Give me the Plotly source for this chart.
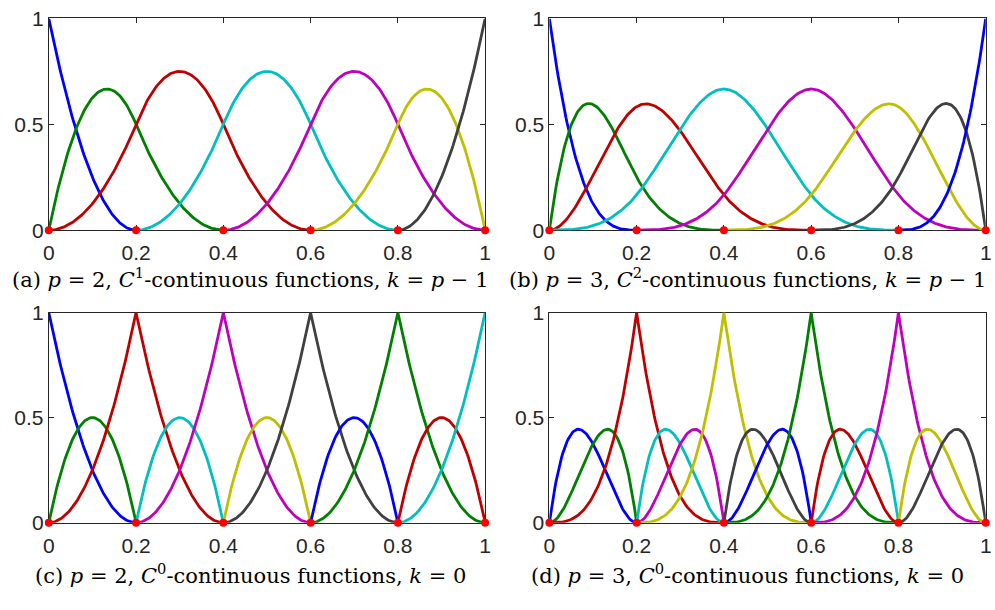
import plotly.graph_objects as go
import numpy as np

# ---- data: B-spline knot vectors (read from the plotted knots) ----
degree_a = 2
knots_a = [0, 0, 0, 0.2, 0.4, 0.6, 0.8, 1, 1, 1]
degree_b = 3
knots_b = [0, 0, 0, 0, 0.2, 0.4, 0.6, 0.8, 1, 1, 1, 1]
degree_c = 2
knots_c = [0, 0, 0, 0.2, 0.2, 0.4, 0.4, 0.6, 0.6, 0.8, 0.8, 1, 1, 1]
degree_d = 3
knots_d = [0, 0, 0, 0, 0.2, 0.2, 0.2, 0.4, 0.4, 0.4, 0.6, 0.6, 0.6, 0.8, 0.8, 0.8, 1, 1, 1, 1]
# which basis functions are drawn in each panel (d omits the two end functions)
shown_a = list(range(0, 7))
shown_b = list(range(0, 8))
shown_c = list(range(0, 11))
shown_d = list(range(1, 15))
knot_points_x = [0, 0.2, 0.4, 0.6, 0.8, 1]
knot_points_y = [0, 0, 0, 0, 0, 0]

captions = [
    "(a) <i>p</i> = 2, <i>C</i><sup>1</sup>-continuous functions, <i>k</i> = <i>p</i> − 1",
    "(b) <i>p</i> = 3, <i>C</i><sup>2</sup>-continuous functions, <i>k</i> = <i>p</i> − 1",
    "(c) <i>p</i> = 2, <i>C</i><sup>0</sup>-continuous functions, <i>k</i> = 0",
    "(d) <i>p</i> = 3, <i>C</i><sup>0</sup>-continuous functions, <i>k</i> = 0",
]
x_ticks = [0, 0.2, 0.4, 0.6, 0.8, 1]
x_ticklabels = ["0", "0.2", "0.4", "0.6", "0.8", "1"]
y_ticks = [0, 0.5, 1]
y_ticklabels = ["0", "0.5", "1"]

colors = ["#0000FF", "#008000", "#BF0000", "#00BFBF", "#BF00BF", "#BFBF00", "#404040"]


def basis_on_span(j, x, p, U):
    N = [1.0] + [0.0] * p
    left = [0.0] * (p + 1)
    right = [0.0] * (p + 1)
    for k in range(1, p + 1):
        left[k] = x - U[j + 1 - k]
        right[k] = U[j + k] - x
        saved = 0.0
        for r in range(k):
            temp = N[r] / (right[r + 1] + left[k - r])
            N[r] = saved + right[r + 1] * temp
            saved = left[k - r] * temp
        N[k] = saved
    return N


def basis_curve(i, p, U, n=80):
    xs, ys = [], []
    for j in range(i, i + p + 1):
        a, b = U[j], U[j + 1]
        if b <= a:
            continue
        for x in np.linspace(a, b, n):
            N = basis_on_span(j, x, p, U)
            xs.append(float(x))
            ys.append(N[i - (j - p)])
    return xs, ys


panels = [
    (degree_a, knots_a, shown_a),
    (degree_b, knots_b, shown_b),
    (degree_c, knots_c, shown_c),
    (degree_d, knots_d, shown_d),
]

W, H = 995, 610
xdom = [[43.3 / W, 485.0 / W], [550.0 / W, 991.7 / W]]
ydom = [[1 - 226.7 / H, 1 - 6.7 / H], [1 - 530.7 / H, 1 - 312.3 / H]]

fig = go.Figure()
axis_font = dict(family="Liberation Sans, Arial, sans-serif", size=21, color="#262626")

for k, (p, U, shown) in enumerate(panels):
    row, col = divmod(k, 2)
    xa = "x" if k == 0 else f"x{k+1}"
    ya = "y" if k == 0 else f"y{k+1}"
    for n_idx, i in enumerate(shown):
        xs, ys = basis_curve(i, p, U)
        fig.add_trace(go.Scatter(x=xs, y=ys, mode="lines", xaxis=xa, yaxis=ya,
                                 line=dict(color=colors[n_idx % 7], width=2.8),
                                 cliponaxis=False, showlegend=False, hoverinfo="skip"))
    fig.add_trace(go.Scatter(x=knot_points_x, y=knot_points_y, mode="markers", xaxis=xa, yaxis=ya,
                             marker=dict(color="#FF0000", size=8), cliponaxis=False,
                             showlegend=False, hoverinfo="skip"))
    axkey = "xaxis" if k == 0 else f"xaxis{k+1}"
    aykey = "yaxis" if k == 0 else f"yaxis{k+1}"
    fig.layout[axkey] = dict(domain=xdom[col], range=[0, 1], anchor=ya,
                             tickvals=x_ticks, ticktext=x_ticklabels,
                             showline=True, linecolor="#262626", linewidth=1, mirror="ticks",
                             ticks="inside", ticklen=5, tickcolor="#262626",
                             showgrid=False, zeroline=False, tickfont=axis_font,
                             ticklabelstandoff=4,
                             layer="below traces", fixedrange=True)
    fig.layout[aykey] = dict(domain=ydom[row], range=[0, 1], anchor=xa,
                             tickvals=y_ticks, ticktext=y_ticklabels,
                             showline=True, linecolor="#262626", linewidth=1, mirror="ticks",
                             ticks="inside", ticklen=5, tickcolor="#262626",
                             showgrid=False, zeroline=False, tickfont=axis_font,
                             layer="below traces", fixedrange=True)

cap_pos = [(0.249, 1 - 276 / H), (0.754, 1 - 276 / H), (0.249, 1 - 584 / H), (0.754, 1 - 584 / H)]
for (cx, cy), txt in zip(cap_pos, captions):
    fig.add_annotation(x=cx, y=cy, xref="paper", yref="paper", text=txt, showarrow=False,
                       xanchor="center", yanchor="middle",
                       font=dict(family="DejaVu Serif, serif", size=21, color="black"))

fig.update_layout(width=W, height=H, margin=dict(l=0, r=0, t=0, b=0),
                  paper_bgcolor="white", plot_bgcolor="white")

fig.write_html("out.html")
